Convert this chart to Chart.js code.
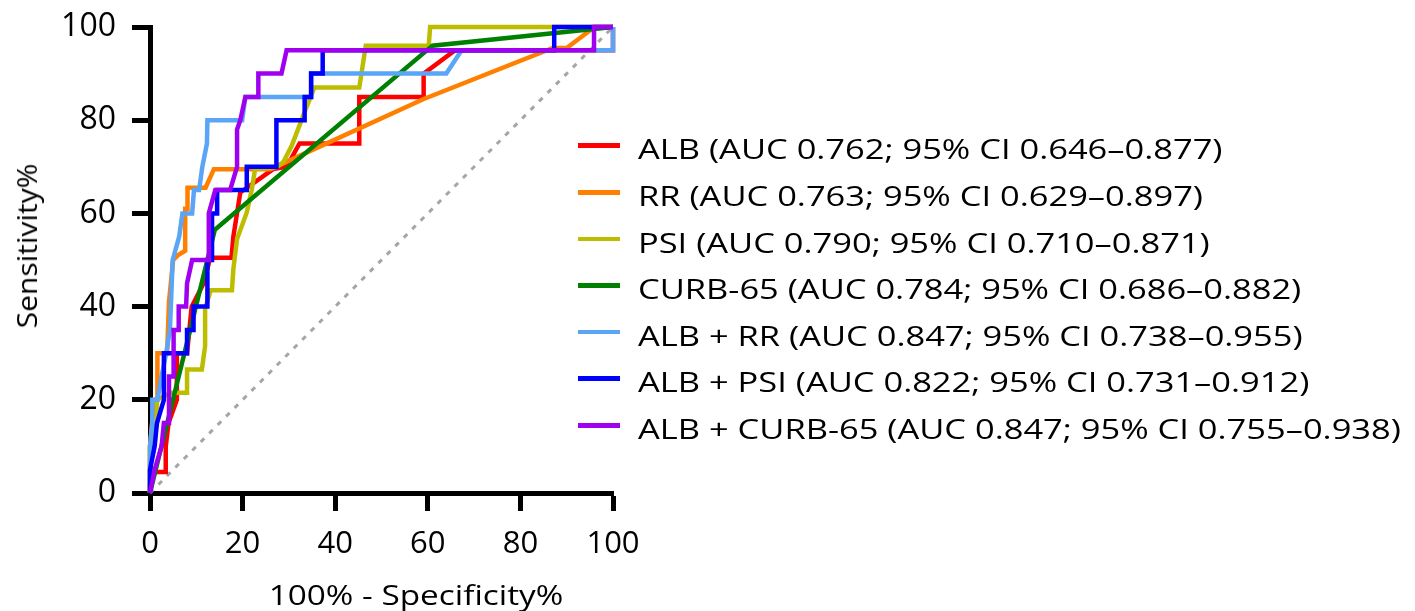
<!DOCTYPE html>
<html>
<head>
<meta charset="utf-8">
<script src="https://cdn.jsdelivr.net/npm/chart.js@4.4.1/dist/chart.umd.min.js"></script>
<style>
  html, body { margin: 0; padding: 0; background: #fff; }
  #wrap { position: relative; width: 1415px; height: 611px; font-family: "Open Sans", sans-serif; color: #000; }
  #legend { position: absolute; left: 578px; top: 122.4px; font-size: 28px; }
  .row { position: relative; height: 46.6px; white-space: nowrap; }
  .row .swatch { position: absolute; left: 0; top: 21.1px; width: 42px; height: 4.5px; }
  .row .label { position: absolute; left: 60px; top: 3px; line-height: 46.6px; display: inline-block; transform: scaleX(1.23); transform-origin: 0 50%; }
  .axis-title { position: absolute; font-size: 28px; line-height: 28px; white-space: nowrap; }
  #xTitle { left: 416px; top: 594px; transform: translate(-50%, -50%) scaleX(1.19); }
  #yTitle { left: 25.8px; top: 246px; transform: translate(-50%, -50%) rotate(-90deg) scaleX(1.07); }
</style>
</head>
<body>
<div id="wrap">
  <canvas id="roc"></canvas>
  <div id="legend"></div>
  <div class="axis-title" id="xTitle"></div>
  <div class="axis-title" id="yTitle"></div>
</div>
<script>
// ROC curves, [100% - specificity, sensitivity]
const albPoints = [[0,0],[0,2],[1,4.5],[3.4,4.5],[3.4,10],[4,15],[5.8,20],[5.8,30],[8,30],[9,40],[11.6,45],[13,50.5],[17.6,50.5],[18,55],[19.5,64.5],[26.6,69.5],[29.5,70],[32.3,75],[45.2,75],[45.2,85],[59.1,85],[59.1,90],[65.9,95],[100,95],[100,100]];
const rrPoints = [[0,0],[0,10],[0.9,20],[1.6,20],[1.6,30],[3.7,30],[4.1,41],[5,50],[6,51],[7.6,52],[7.6,61],[8.1,61],[8.1,65.5],[12,65.5],[13.8,69.5],[26,69.5],[59,84.5],[87,95.5],[90,95.5],[96,100],[100,100]];
const psiPoints = [[0,0],[0,10],[1.5,15],[1.5,20],[4.5,21.5],[8,21.5],[8,26.5],[11.2,26.5],[11.9,31.5],[11.9,39.5],[13.1,43.5],[17.7,43.5],[18,48],[18.8,54.5],[20.9,60.2],[22,65.2],[22.7,69.5],[27.5,70],[28.8,71],[30.6,74.5],[33.8,82.8],[35.5,87],[45.2,87],[46.6,96],[60.2,96],[60.5,100],[100,100]];
const curbPoints = [[0,0],[14,56.5],[61,96],[100,100]];
const albRrPoints = [[0,0],[0,10],[0.5,15],[0.5,20],[1.6,20],[2.5,25],[3.5,30],[4.3,35],[4.5,40],[4.9,50],[6.3,55],[7,60],[9.1,60],[9.5,65],[10.6,65],[11.3,70],[12.3,75],[12.4,80],[19.9,80],[20.6,85],[34.8,85],[34.8,90],[64,90],[67.3,95],[100,95],[100,100]];
const albPsiPoints = [[0,0],[0,5],[1,10],[1.5,15],[3,20],[3,30],[8,30],[8,35],[9.4,35],[9.4,40],[12.4,40],[12.4,50],[13.4,50],[13.4,60],[14.5,60],[14.5,65],[20.9,65],[20.9,70],[27.3,70],[27.3,80],[33.4,80],[33.4,85],[34.8,85],[34.8,90],[37.3,90],[37.3,95],[87.3,95],[87.3,100],[100,100]];
const albCurbPoints = [[0,0],[1,5],[2.5,10],[3,15],[4.1,15],[4.1,25],[5.1,25],[5.1,35],[6.2,35],[6.2,40],[7.8,40],[8,45],[9.1,50],[12.7,50],[12.7,60],[14.1,65],[17.3,65],[18.8,70],[18.8,78],[19.5,80],[20.6,85],[23.4,85],[23.4,90],[28.4,90],[29.5,95],[95.9,95],[95.9,100],[100,100]];
const chancePoints = [[0,0],[100,100]];

const seriesLabels = [
  'ALB (AUC 0.762; 95% CI 0.646–0.877)',
  'RR (AUC 0.763; 95% CI 0.629–0.897)',
  'PSI (AUC 0.790; 95% CI 0.710–0.871)',
  'CURB-65 (AUC 0.784; 95% CI 0.686–0.882)',
  'ALB + RR (AUC 0.847; 95% CI 0.738–0.955)',
  'ALB + PSI (AUC 0.822; 95% CI 0.731–0.912)',
  'ALB + CURB-65 (AUC 0.847; 95% CI 0.755–0.938)'
];
const seriesPoints = [albPoints, rrPoints, psiPoints, curbPoints, albRrPoints, albPsiPoints, albCurbPoints];
const seriesColors = ['#ff0000', '#ff8000', '#bdbd00', '#008000', '#5aa5f5', '#0000ff', '#a000f0'];

const xTicks = [0, 20, 40, 60, 80, 100];
const yTicks = [0, 20, 40, 60, 80, 100];
const xTitle = '100% - Specificity%';
const yTitle = 'Sensitivity%';

const FONT = '"Open Sans", sans-serif';
const toXY = pts => pts.map(p => ({ x: p[0], y: p[1] }));

const datasets = seriesPoints.map((pts, i) => ({
  label: seriesLabels[i],
  data: toXY(pts),
  borderColor: seriesColors[i],
  backgroundColor: seriesColors[i],
  borderWidth: 4.5,
  pointRadius: 0,
  tension: 0,
  clip: false,
  order: seriesPoints.length - i   // later series drawn on top
}));

datasets.push({
  label: 'reference',
  data: toXY(chancePoints),
  borderColor: '#a6a6a6',
  borderWidth: 3,
  borderDash: [5, 7],
  pointRadius: 0,
  clip: false,
  order: 99
});

const axisCommon = (ticks, size, pad) => ({
  type: 'linear',
  min: 0,
  max: 100,
  afterBuildTicks: s => { s.ticks = ticks.map(v => ({ value: v })); },
  ticks: { color: '#000', font: { family: FONT, size: size }, padding: pad, maxRotation: 0 },
  grid: { drawOnChartArea: false, drawTicks: true, tickLength: 18, tickWidth: 5, tickColor: '#000' },
  border: { display: true, width: 5, color: '#000' }
});

// pin the plot box: left 150, right 613, top 27, bottom 493
new Chart(document.getElementById('roc'), {
  type: 'line',
  data: { datasets: datasets },
  options: {
    responsive: true,
    maintainAspectRatio: false,
    animation: false,
    layout: { padding: { top: 27, right: 802, left: 0, bottom: 0 } },
    plugins: { legend: { display: false }, tooltip: { enabled: false } },
    scales: {
      x: Object.assign(axisCommon(xTicks, 31, 15), {
        afterFit: s => { s.height = 118; s.paddingLeft = 0; s.paddingRight = 0; }
      }),
      y: Object.assign(axisCommon(yTicks, 32, 16), {
        afterFit: s => { s.width = 150; s.paddingTop = 0; s.paddingBottom = 0; }
      })
    }
  }
});

// axis titles and legend as page text
document.getElementById('xTitle').textContent = xTitle;
document.getElementById('yTitle').textContent = yTitle;

const legend = document.getElementById('legend');
seriesLabels.forEach((text, i) => {
  const row = document.createElement('div');
  row.className = 'row';
  const sw = document.createElement('span');
  sw.className = 'swatch';
  sw.style.background = seriesColors[i];
  const lab = document.createElement('span');
  lab.className = 'label';
  lab.textContent = text;
  row.appendChild(sw);
  row.appendChild(lab);
  legend.appendChild(row);
});
</script>
</body>
</html>
